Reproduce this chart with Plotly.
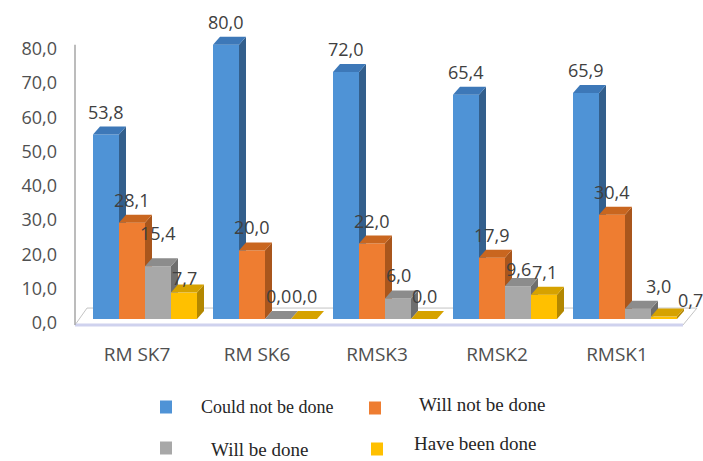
import plotly.graph_objects as go

# ---- data -------------------------------------------------------------
categories = ["RM SK7", "RM SK6", "RMSK3", "RMSK2", "RMSK1"]
could_not_be_done = [53.8, 80.0, 72.0, 65.4, 65.9]
will_not_be_done = [28.1, 20.0, 22.0, 17.9, 30.4]
will_be_done = [15.4, 0.0, 6.0, 9.6, 3.0]
have_been_done = [7.7, 0.0, 0.0, 7.1, 0.7]
series_names = ["Could not be done", "Will not be done", "Will be done", "Have been done"]
y_ticks = [0, 10, 20, 30, 40, 50, 60, 70, 80]

series = [could_not_be_done, will_not_be_done, will_be_done, have_been_done]

# ---- styling ----------------------------------------------------------
FRONT = ["#4f93d6", "#ee7d31", "#a8a8a8", "#ffc000"]
SIDE = ["#335f8c", "#a9561c", "#6e6e6e", "#b38700"]
TOP = ["#3d78b8", "#c9661f", "#8c8c8c", "#d6a200"]

W, H = 703, 461
M = dict(l=71, r=2, t=30, b=131)
X_RANGE = [-0.6167, 4.6333]
Y_RANGE = [-3.2, 84.27]
PW = W - M["l"] - M["r"]
PH = H - M["t"] - M["b"]
PX_X = PW / (X_RANGE[1] - X_RANGE[0])   # pixels per category unit
PX_Y = PH / (Y_RANGE[1] - Y_RANGE[0])   # pixels per value unit

BAR_W = 26 / PX_X          # front face width of one column
DX = 7 / PX_X              # depth offset of the 3-D faces
DY = 8 / PX_Y

idx = list(range(len(categories)))


def fmt(v):
    return f"{v:.1f}".replace(".", ",")


def px2paper(xp, yp):
    return (xp - M["l"]) / PW, (H - M["b"] - yp) / PH


fig = go.Figure()

# floor slab under the columns
floor_front, floor_back = -1.75, 3.2
fx0, fx1 = X_RANGE[0] + 4 / PX_X, 4.483
floor_path = (f"M {fx0},{floor_front} L {fx1},{floor_front} "
              f"L {fx1 + 14 / PX_X},{floor_back} L {fx0 + 12 / PX_X},{floor_back} Z")

shapes = [
    dict(type="path", path=floor_path, xref="x", yref="y", layer="below",
         fillcolor="#ffffff", line=dict(color="#c4c4c4", width=1)),
    dict(type="line", xref="x", yref="y", layer="below",
         x0=fx0, x1=fx1, y0=floor_front, y1=floor_front,
         line=dict(color="#cfd2ee", width=3)),
    dict(type="line", xref="x", yref="y", layer="below",
         x0=fx0, x1=fx0, y0=floor_front, y1=y_ticks[-1],
         line=dict(color="#a6a6a6", width=1.5)),
]

# front faces of the columns
for i, vals in enumerate(series):
    fig.add_trace(go.Bar(
        x=idx, y=vals, width=BAR_W, offset=-2 * BAR_W + i * BAR_W,
        marker=dict(color=FRONT[i], line=dict(width=0)),
        name=series_names[i], showlegend=False, hoverinfo="skip",
    ))

# side and top faces, drawn column by column so nearer faces sit on top
for i, vals in enumerate(series):
    side_x, side_y, top_x, top_y = [], [], [], []
    for k, v in zip(idx, vals):
        x0 = k - 2 * BAR_W + i * BAR_W
        x1 = x0 + BAR_W
        v_next = series[i + 1][k] if i + 1 < len(series) else 0.0
        if v > v_next:
            pts = [(x1, v_next)]
            if v_next < DY:
                pts.append((x1 + DX * v_next / DY, v_next))
            pts += [(x1 + DX, max(DY, v_next)), (x1 + DX, v + DY), (x1, v), (x1, v_next)]
            side_x += [p[0] for p in pts] + [None]
            side_y += [p[1] for p in pts] + [None]
        top_x += [x0, x0 + DX, x1 + DX, x1, x0, None]
        top_y += [v, v + DY, v + DY, v, v, None]
    fig.add_trace(go.Scatter(x=side_x, y=side_y, mode="lines", fill="toself",
                             fillcolor=SIDE[i], line=dict(width=0),
                             showlegend=False, hoverinfo="skip"))
    fig.add_trace(go.Scatter(x=top_x, y=top_y, mode="lines", fill="toself",
                             fillcolor=TOP[i], line=dict(width=0),
                             showlegend=False, hoverinfo="skip"))

# value labels
label_nudge = {(2, 4): (20, 0), (3, 4): (26, -6), (2, 0): (0, 10), (3, 0): (0, -8),
               (2, 3): (0, -6)}
annotations = []
for i, vals in enumerate(series):
    for k, v in zip(idx, vals):
        nx, ny = label_nudge.get((i, k), (0, 0))
        annotations.append(dict(
            x=k - 2 * BAR_W + (i + 0.5) * BAR_W, y=v, xref="x", yref="y",
            text=fmt(v), showarrow=False, xanchor="center", yanchor="middle",
            xshift=nx, yshift=23 + ny,
            font=dict(family="Open Sans", size=18, color="#404040"),
        ))

# legend keys and names
legend_items = [
    (166, 407, 200, 407, 18),
    (375, 408, 418, 404, 19),
    (166, 448, 210, 449, 19),
    (377, 449, 413, 444, 19),
]
for (sx, sy, tx, ty, fs), name, col in zip(legend_items, series_names, FRONT):
    ax0, ay0 = px2paper(sx - 6, sy + 6.5)
    ax1, ay1 = px2paper(sx + 6, sy - 6.5)
    shapes.append(dict(type="rect", xref="paper", yref="paper",
                       x0=ax0, x1=ax1, y0=ay0, y1=ay1,
                       fillcolor=col, line=dict(width=0)))
    px, py = px2paper(tx, ty)
    annotations.append(dict(x=px, y=py, xref="paper", yref="paper", text=name,
                            showarrow=False, xanchor="left", yanchor="middle",
                            borderpad=0,
                            font=dict(family="Liberation Serif", size=fs, color="#262626")))

fig.update_layout(
    width=W, height=H, margin=M,
    paper_bgcolor="#ffffff", plot_bgcolor="#ffffff",
    barmode="overlay", showlegend=False,
    shapes=shapes, annotations=annotations,
    xaxis=dict(range=X_RANGE, tickmode="array", tickvals=idx, ticktext=categories,
               showgrid=False, zeroline=False, showline=False, ticks="",
               ticklabelstandoff=11, ticklabelshift=-8,
               tickfont=dict(family="Open Sans", size=19, color="#505050")),
    yaxis=dict(range=Y_RANGE, tickmode="array", tickvals=y_ticks,
               ticktext=[fmt(t) for t in y_ticks],
               showgrid=False, zeroline=False, showline=False, ticks="",
               ticklabelstandoff=13, ticklabelshift=4,
               tickfont=dict(family="Open Sans", size=18, color="#505050")),
)

fig.write_html("out.html")
